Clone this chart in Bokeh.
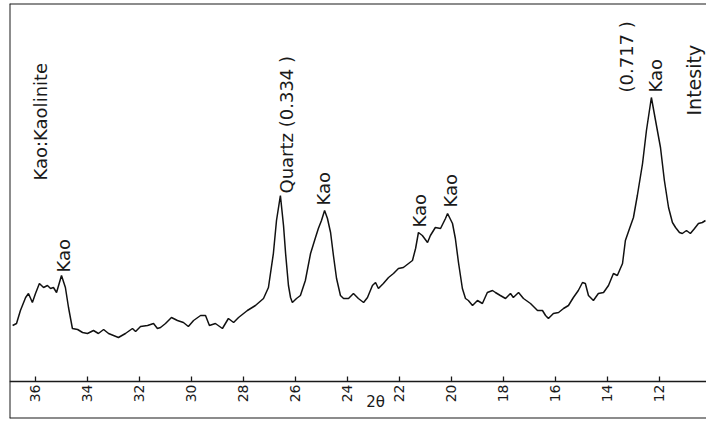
from math import pi
from bokeh.plotting import figure
from bokeh.models import Range1d, FixedTicker, Span, Label, ColumnDataSource
from bokeh.core.properties import value
from bokeh.embed import file_html
from bokeh.resources import INLINE

# ---- data ----
two_theta = [36.88, 36.73, 36.58, 36.38, 36.27, 36.12, 36.00, 35.85, 35.69, 35.54,
             35.42, 35.31, 35.19, 35.00, 34.85, 34.73, 34.58, 34.38, 34.19, 34.00,
             33.77, 33.58, 33.38, 33.19, 33.00, 32.81, 32.54, 32.27, 32.15, 31.96,
             31.69, 31.46, 31.31, 31.19, 31.00, 30.77, 30.54, 30.31, 30.12, 29.92,
             29.65, 29.46, 29.31, 29.08, 28.81, 28.58, 28.38, 28.19, 27.85, 27.54,
             27.23, 27.04, 26.85, 26.73, 26.58, 26.46, 26.38, 26.27, 26.19, 26.12,
             25.96, 25.81, 25.62, 25.42, 25.23, 25.12, 25.00, 24.88, 24.77, 24.65,
             24.54, 24.42, 24.27, 24.15, 23.96, 23.77, 23.58, 23.38, 23.23, 23.04,
             22.92, 22.81, 22.62, 22.42, 22.23, 22.04, 21.85, 21.65, 21.50, 21.38,
             21.27, 21.12, 20.92, 20.81, 20.62, 20.42, 20.23, 20.15, 19.96, 19.85,
             19.73, 19.58, 19.46, 19.35, 19.19, 19.00, 18.81, 18.62, 18.42, 18.31,
             18.12, 17.92, 17.73, 17.62, 17.42, 17.23, 16.96, 16.69, 16.50, 16.38,
             16.27, 16.08, 15.88, 15.69, 15.50, 15.31, 15.12, 14.96, 14.85, 14.73,
             14.54, 14.35, 14.15, 13.96, 13.77, 13.62, 13.42, 13.31, 13.15, 13.00,
             12.85, 12.65, 12.50, 12.31, 12.15, 11.96, 11.81, 11.65, 11.50, 11.38,
             11.23, 11.12, 10.96, 10.81, 10.65, 10.50, 10.35, 10.23]
intensity = [56, 58, 71, 84, 88, 79, 88, 98, 94, 96,
             93, 94, 89, 106, 94, 74, 53, 52, 49, 48,
             51, 48, 52, 48, 46, 44, 48, 53, 50, 55,
             56, 58, 53, 54, 58, 64, 61, 59, 55, 61,
             66, 66, 56, 58, 53, 63, 59, 64, 71, 76,
             83, 94, 128, 161, 186, 156, 128, 96, 84, 79,
             83, 86, 101, 128, 144, 153, 161, 171, 163, 149,
             126, 103, 86, 83, 83, 88, 83, 79, 84, 96,
             99, 93, 98, 104, 108, 113, 114, 118, 121, 133,
             149, 146, 139, 146, 154, 153, 163, 168, 158, 143,
             119, 93, 83, 81, 76, 81, 78, 89, 91, 89,
             86, 83, 88, 84, 89, 83, 78, 71, 71, 66,
             63, 68, 69, 73, 76, 84, 91, 99, 98, 86,
             81, 88, 89, 96, 108, 106, 118, 141, 153, 164,
             186, 218, 251, 284, 261, 234, 201, 174, 159, 154,
             149, 148, 151, 148, 153, 158, 159, 161]

tick_values = [36, 34, 32, 30, 28, 26, 24, 22, 20, 18, 16, 14, 12]
tick_labels = ["36", "34", "32", "30", "28", "26", "24", "22", "20", "18", "16", "14", "12"]

label_texts = ["Kao:Kaolinite", "Kao", "Quartz (0.334 )", "Kao", "Kao", "Kao",
               "(0.717 )", "Kao", "Intesity"]
label_theta = [35.81, 34.92, 26.35, 24.92, 21.23, 20.04, 13.27, 12.15, 10.66]
label_base = [201, 109, 188, 176, 154, 174, 289, 289, 266]
label_size = ["18px", "18px", "18px", "18px", "18px", "18px", "18px", "18px", "19px"]

x_lo, x_hi = 37.0, 10.19
y_lo, y_hi = -37, 378

FONT = "DejaVu Sans"
INK = "#1a1a1a"

p = figure(width=706, height=420, x_range=Range1d(x_lo, x_hi), y_range=Range1d(y_lo, y_hi),
           toolbar_location=None, output_backend="svg", y_axis_location=None,
           min_border_left=9, min_border_right=0, min_border_top=3, min_border_bottom=2)
p.outline_line_color = None
p.xgrid.grid_line_color = None
p.ygrid.grid_line_color = None
p.background_fill_color = "white"
p.border_fill_color = "white"

ax = p.xaxis[0]
ax.fixed_location = 0
ax.ticker = FixedTicker(ticks=tick_values)
ax.major_label_overrides = {v: s for v, s in zip(tick_values, tick_labels)}
ax.major_label_orientation = pi / 2
ax.major_label_text_font = FONT
ax.major_label_text_font_size = "14px"
ax.major_label_text_color = INK
ax.major_label_standoff = 3
ax.major_tick_in = 5
ax.major_tick_out = 0
ax.minor_tick_in = 0
ax.minor_tick_out = 0
ax.axis_line_width = 1.6
ax.axis_line_color = INK
ax.major_tick_line_color = INK
ax.major_tick_line_width = 1.3

# frame borders (left, top, bottom)
for loc, dim in [(x_lo, "height"), (y_hi, "width"), (y_lo, "width")]:
    p.add_layout(Span(location=loc, dimension=dim, line_color=INK, line_width=2))

p.line(two_theta, intensity, line_color="#111111", line_width=1.5)

src = ColumnDataSource(dict(x=label_theta, y=label_base, t=label_texts, s=label_size))
p.text(x="x", y="y", text="t", source=src, angle=pi / 2, text_align="left",
       text_baseline="middle", text_font=value(FONT), text_font_size="s",
       text_color=INK)

p.add_layout(Label(x=22.92, y=-20, text="2θ", text_font=FONT, text_font_size="15px",
                   text_color=INK, text_align="center", text_baseline="middle"))

open("out.html", "w").write(file_html(p, INLINE))
